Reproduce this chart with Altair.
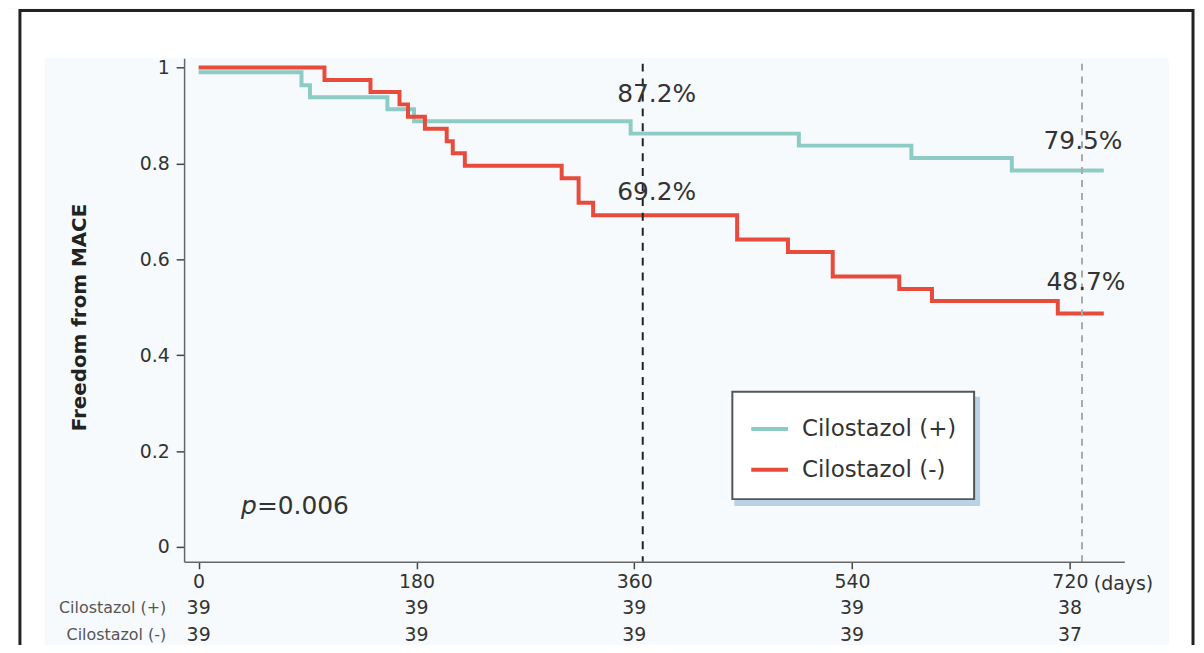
import altair as alt
import pandas as pd

groups = ["Cilostazol (+)", "Cilostazol (-)"]
colors = ["#8dccc4", "#e64b3c"]

teal_days = [0, 85, 92, 156, 178, 357, 496, 589, 672, 748]
teal_vals = [0.99, 0.963, 0.938, 0.913, 0.888, 0.862, 0.837, 0.811, 0.785, 0.785]
red_days = [0, 104, 142, 166, 173, 187, 205, 210, 220, 300, 314, 326, 445, 487, 524, 579, 606, 710, 748]
red_vals = [1.0, 0.974, 0.949, 0.923, 0.897, 0.872, 0.846, 0.821, 0.795, 0.769, 0.718, 0.692,
            0.641, 0.615, 0.564, 0.538, 0.513, 0.487, 0.487]

tick_days = [0, 180, 360, 540, 720]
risk_plus = [39, 39, 39, 39, 38]
risk_minus = [39, 39, 39, 39, 37]
y_ticks = [0, 0.2, 0.4, 0.6, 0.8, 1]

ref_days = [367, 730]
labels_365 = ["87.2%", "69.2%"]
labels_730 = ["79.5%", "48.7%"]
p_text = ["p", "=0.006"]
p_pos = [35, 0.085]

FONT = "DejaVu Sans"
W, H = 945, 506
xdom = [-12, 765]
ydom = [-0.031, 1.019]
xs = alt.Scale(domain=xdom, nice=False, zero=False)
ys = alt.Scale(domain=ydom, nice=False, zero=False)

rows = []
for d, v in zip(teal_days, teal_vals):
    rows.append({"group": groups[0], "day": d, "surv": v})
for d, v in zip(red_days, red_vals):
    rows.append({"group": groups[1], "day": d, "surv": v})
curves = pd.DataFrame(rows)


def surv_at(days, vals, t):
    s = vals[0]
    for d, v in zip(days, vals):
        if d <= t:
            s = v
    return s


def X(field="day"):
    return alt.X(f"{field}:Q", scale=xs)


def Y(field="surv"):
    return alt.Y(f"{field}:Q", scale=ys)


one = pd.DataFrame({"a": [0]})

# white margins around the light panel (chart background is the panel colour)
strip_top = alt.Chart(one).mark_rect(color="white").encode(
    x=alt.value(-177), x2=alt.value(1019), y=alt.value(-49), y2=alt.value(0))
strip_left = alt.Chart(one).mark_rect(color="white").encode(
    x=alt.value(-177), x2=alt.value(-140), y=alt.value(-49), y2=alt.value(600))
strip_right = alt.Chart(one).mark_rect(color="white").encode(
    x=alt.value(990), x2=alt.value(1019), y=alt.value(-49), y2=alt.value(600))
frame = alt.Chart(one).mark_rect(fillOpacity=0, stroke="#222", strokeWidth=3).encode(
    x=alt.value(-165), x2=alt.value(1014), y=alt.value(-48), y2=alt.value(660))

LX, LY, LW, LH = 547, 334, 241, 107
shadow = alt.Chart(pd.DataFrame({"b": [1]})).mark_rect(color="#b8d2e8", opacity=1).encode(
    x=alt.value(LX + 6), x2=alt.value(LX + LW + 12), y=alt.value(LY + 6), y2=alt.value(LY + LH + 9))

lines = alt.Chart(curves).mark_line(interpolate="step-after", strokeWidth=4).encode(
    x=alt.X("day:Q", scale=xs, axis=alt.Axis(
        values=tick_days, title=None, grid=False, labelFont=FONT, labelFontSize=19,
        labelColor="#333", labelPadding=4, labelFlush=False, tickSize=7, tickColor="#444",
        tickWidth=1.5, domainColor="#666", domainWidth=1.5, zindex=1)),
    y=alt.Y("surv:Q", scale=ys, axis=alt.Axis(
        values=y_ticks, format="~g", title="Freedom from MACE", grid=False,
        labelFont=FONT, labelFontSize=19, labelColor="#333", labelPadding=7, labelFlush=False,
        tickSize=8, tickColor="#444", tickWidth=1.5, domainColor="#666", domainWidth=1.5,
        titleFont=FONT, titleFontSize=20, titleFontWeight="bold", titleColor="#222",
        titleX=-95, titleY=260, titleAngle=270, titleAlign="center", titleBaseline="bottom",
        zindex=1)),
    color=alt.Color("group:N", scale=alt.Scale(domain=groups, range=colors), legend=alt.Legend(
        title=None, orient="none", legendX=LX + 4, legendY=LY + 1, symbolType="stroke",
        symbolSize=1369, symbolStrokeWidth=4, labelFont=FONT, labelFontSize=23,
        labelColor="#333", labelOffset=12, rowPadding=8, padding=17,
        strokeColor="#555", fillColor="white")),
)

rule_a = alt.Chart(pd.DataFrame({"day": [ref_days[0]], "surv": [1.008], "bot": [ydom[0]]})).mark_rule(
    color="#222", strokeWidth=2, strokeDash=[8, 7]).encode(x=X(), y=Y(), y2="bot:Q")
rule_b = alt.Chart(pd.DataFrame({"day": [ref_days[1]], "surv": [1.008], "bot": [ydom[0]]})).mark_rule(
    color="#aaaaaa", strokeWidth=2, strokeDash=[7, 6]).encode(x=X(), y=Y(), y2="bot:Q")

layers = [strip_top, strip_left, strip_right, frame, lines, rule_a, rule_b, shadow]

# percentage annotations anchored on curves
ann_specs = [
    (labels_365[0], ref_days[0], surv_at(teal_days, teal_vals, ref_days[0]), 14, -40),
    (labels_365[1], ref_days[0], surv_at(red_days, red_vals, ref_days[0]), 14, -23),
    (labels_730[0], ref_days[1], surv_at(teal_days, teal_vals, ref_days[1]), 1, -30),
    (labels_730[1], ref_days[1], surv_at(red_days, red_vals, ref_days[1]), 4, -32),
]
for lab, d, v, dx, dy in ann_specs:
    df = pd.DataFrame({"day": [d], "surv": [v], "lab": [lab]})
    layers.append(alt.Chart(df).mark_text(font=FONT, fontSize=25, color="#333", dx=dx, dy=dy,
                                          baseline="middle", align="center").encode(
        x=X(), y=Y(), text="lab:N"))

# p value
pdf = pd.DataFrame({"day": [p_pos[0]], "surv": [p_pos[1]], "a": [p_text[0]], "b": [p_text[1]]})
layers.append(alt.Chart(pdf).mark_text(font=FONT, fontSize=25, fontStyle="italic", color="#333",
                                       align="left", baseline="middle").encode(
    x=X(), y=Y(), text="a:N"))
layers.append(alt.Chart(pdf).mark_text(font=FONT, fontSize=25, color="#333", dx=16,
                                       align="left", baseline="middle").encode(
    x=X(), y=Y(), text="b:N"))

# "(days)" unit next to last tick
ddf = pd.DataFrame({"day": [tick_days[-1]], "t": ["(days)"]})
layers.append(alt.Chart(ddf).mark_text(font=FONT, fontSize=19, color="#333", dx=24,
                                       align="left", baseline="middle").encode(
    x=X(), y=alt.value(528), text="t:N"))

# number at risk
for yv, counts, g in [(552, risk_plus, groups[0]), (580, risk_minus, groups[1])]:
    df = pd.DataFrame({"day": tick_days, "n": counts})
    layers.append(alt.Chart(df).mark_text(font=FONT, fontSize=19, color="#333",
                                          baseline="middle", align="center").encode(
        x=X(), y=alt.value(yv), text="n:Q"))
    gdf = pd.DataFrame({"g": [g]})
    layers.append(alt.Chart(gdf).mark_text(font=FONT, fontSize=16, color="#555",
                                           baseline="middle", align="right").encode(
        x=alt.value(-18), y=alt.value(yv), text="g:N"))

chart = alt.layer(*layers).properties(
    width=W, height=H,
    padding={"left": 177, "top": 49, "right": 72, "bottom": 82},
    autosize=alt.AutoSizeParams(type="none"),
    background="#f6fafd",
).configure_view(strokeWidth=0).configure_legend(strokeWidth=2)

chart.save("out.html", embed_options={"renderer": "svg", "actions": False})
